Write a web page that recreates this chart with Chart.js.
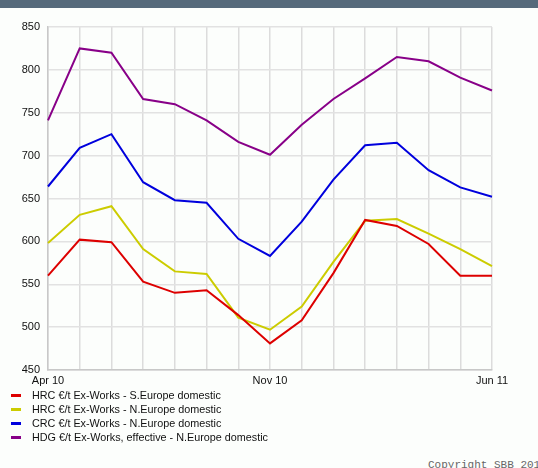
<!DOCTYPE html>
<html>
<head>
<meta charset="utf-8">
<script src="https://cdn.jsdelivr.net/npm/chart.js@4/dist/chart.umd.min.js"></script>
<style>
  html, body { margin: 0; padding: 0; background: #fcfefc; }
  body { width: 538px; height: 468px; position: relative; overflow: hidden; font-family: "Liberation Sans", Arial, sans-serif; }
  #topbar { position: absolute; left: 0; top: 0; width: 538px; height: 8px; background: #566a7b; }
  #wrap { position: absolute; left: 0; top: 0; width: 538px; height: 392px; }
  #legend { position: absolute; left: 11px; top: 388px; font-size: 10.8px; color: #111; }
  .item { height: 14px; line-height: 14px; white-space: nowrap; position: relative; padding-left: 21px; }
  .sw { position: absolute; left: 0; top: 6px; width: 10px; height: 3px; }
  #copy { position: absolute; left: 428px; top: 459px; font-family: "Liberation Mono", "DejaVu Sans Mono", monospace; font-size: 11px; color: #666; white-space: nowrap; }
</style>
</head>
<body>
<div id="topbar"></div>
<div id="wrap"><canvas id="chart" width="538" height="392"></canvas></div>
<div id="legend"></div>
<div id="copy">Copyright SBB 2011</div>
<script>
// Monthly prices, Apr 2010 - Jun 2011, €/t
const months = ['Apr 10','May 10','Jun 10','Jul 10','Aug 10','Sep 10','Oct 10','Nov 10',
                'Dec 10','Jan 11','Feb 11','Mar 11','Apr 11','May 11','Jun 11'];
const shownTicks = ['Apr 10','Nov 10','Jun 11'];

const hrcSouth = [560, 602, 599, 553, 540, 543, 514, 481, 508, 563, 625, 618, 597, 560, 560];
const hrcNorth = [598, 631, 641, 591, 565, 562, 511, 497, 524, 576, 624, 626, 609, 591, 571];
const crcNorth = [664, 709, 725, 669, 648, 645, 603, 583, 623, 672, 712, 715, 683, 663, 652];
const hdgNorth = [741, 825, 820, 766, 760, 741, 716, 701, 736, 766, 790, 815, 810, 791, 776];

const seriesNames = [
  'HRC €/t Ex-Works - S.Europe domestic',
  'HRC €/t Ex-Works - N.Europe domestic',
  'CRC €/t Ex-Works - N.Europe domestic',
  'HDG €/t Ex-Works, effective - N.Europe domestic'
];
const seriesColors = ['#dd0000', '#cccc00', '#0000dd', '#880088'];
const seriesValues = [hrcSouth, hrcNorth, crcNorth, hdgNorth];

const datasets = seriesValues.map((vals, i) => ({
  label: seriesNames[i],
  data: vals,
  borderColor: seriesColors[i],
  backgroundColor: seriesColors[i],
  borderWidth: 2,
  pointRadius: 0,
  tension: 0,
  fill: false
}));

const font = { family: '"Liberation Sans", Arial, sans-serif', size: 11 };

new Chart(document.getElementById('chart'), {
  type: 'line',
  data: { labels: months, datasets },
  options: {
    responsive: false,
    animation: false,
    layout: { padding: { top: 27, right: 46, left: 0, bottom: 0 } },
    plugins: { legend: { display: false }, tooltip: { enabled: false } },
    scales: {
      x: {
        grid: { color: '#dcdcdc', lineWidth: 1.5, drawTicks: false },
        border: { color: '#c8c8c8', width: 1.5 },
        ticks: {
          autoSkip: false, maxRotation: 0, padding: 4, color: '#111', font,
          callback: function (v) {
            const l = this.getLabelForValue(v);
            return shownTicks.includes(l) ? l : '';
          }
        },
        afterFit: s => { s.height = 22; }
      },
      y: {
        min: 450, max: 850,
        grid: { color: '#e2e2e2', lineWidth: 1.5, drawTicks: false },
        border: { color: '#c8c8c8', width: 1.5 },
        ticks: { stepSize: 50, padding: 8, color: '#111', font },
        afterFit: s => { s.width = 48; }
      }
    }
  }
});

// Legend list below the chart
const leg = document.getElementById('legend');
seriesNames.forEach((n, i) => {
  const d = document.createElement('div');
  d.className = 'item';
  d.innerHTML = '<span class="sw" style="background:' + seriesColors[i] + '"></span>' + n;
  leg.appendChild(d);
});
</script>
</body>
</html>
